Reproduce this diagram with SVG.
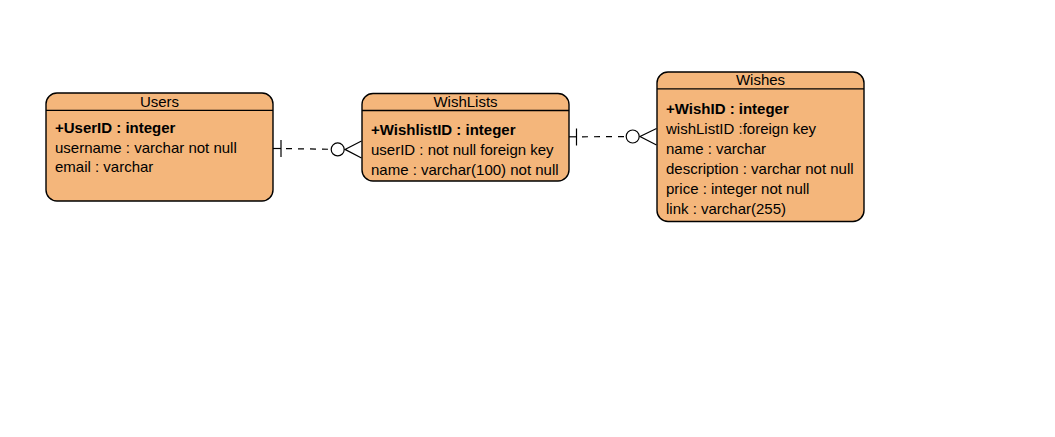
<svg xmlns="http://www.w3.org/2000/svg" width="1055" height="437" viewBox="0 0 1055 437">
<style>
.box{fill:#F4B67B;stroke:#000;stroke-width:1.4}
.hdr{stroke:#000;stroke-width:1.3}
text{font-family:"Liberation Sans",Arial,sans-serif;font-size:15px;fill:#000}
.t{text-anchor:middle}
.b{font-weight:bold}
.ln{stroke:#000;stroke-width:1.2;fill:none}
.dash{stroke-dasharray:6 6}
.circ{fill:#fff;stroke:#000;stroke-width:1.2}
</style>
<rect width="1055" height="437" fill="#fff"/>
<g id="connectors">
  <g id="users-wishlists">
    <line class="ln" x1="273" y1="148.5" x2="281" y2="148.5"/>
    <line class="ln dash" x1="286" y1="148.6" x2="331" y2="149.3"/>
    <line class="ln" x1="281" y1="140" x2="281" y2="157"/>
    <circle class="circ" cx="337.7" cy="149.4" r="6.5"/>
    <polyline class="ln" points="361.5,141 345,149.4 361.5,158"/>
  </g>
  <g id="wishlists-wishes">
    <line class="ln" x1="569" y1="136.8" x2="576.5" y2="136.8"/>
    <line class="ln dash" x1="582" y1="136.8" x2="626" y2="136.6"/>
    <line class="ln" x1="576.5" y1="128.5" x2="576.5" y2="145.5"/>
    <circle class="circ" cx="632.7" cy="136.5" r="6.5"/>
    <polyline class="ln" points="656.5,128.5 640,136.5 656.5,145"/>
  </g>
</g>
<g id="users">
  <rect class="box" x="46" y="93" width="227" height="108" rx="11"/>
  <line class="hdr" x1="46" y1="110.3" x2="273" y2="110.3"/>
  <text class="t" x="159.5" y="106.5">Users</text>
  <text class="b" x="55" y="132.7">+UserID : integer</text>
  <text x="55" y="152.5">username : varchar not null</text>
  <text x="55" y="172.3">email : varchar</text>
</g>
<g id="wishlists">
  <rect class="box" x="362" y="93.5" width="207" height="87.5" rx="11"/>
  <line class="hdr" x1="362" y1="110.5" x2="569" y2="110.5"/>
  <text class="t" x="465.5" y="106.5">WishLists</text>
  <text class="b" x="371" y="134.5">+WishlistID : integer</text>
  <text x="371" y="154.5">userID : not null foreign key</text>
  <text x="371" y="174.5">name : varchar(100) not null</text>
</g>
<g id="wishes">
  <rect class="box" x="657" y="72" width="207" height="149.5" rx="11"/>
  <line class="hdr" x1="657" y1="88.8" x2="864" y2="88.8"/>
  <text class="t" x="760.5" y="85">Wishes</text>
  <text class="b" x="666" y="113.5">+WishID : integer</text>
  <text x="666" y="133.5">wishListID :foreign key</text>
  <text x="666" y="153.5">name : varchar</text>
  <text x="666" y="173.5">description : varchar not null</text>
  <text x="666" y="193.5">price : integer not null</text>
  <text x="666" y="213.5">link : varchar(255)</text>
</g>
</svg>
